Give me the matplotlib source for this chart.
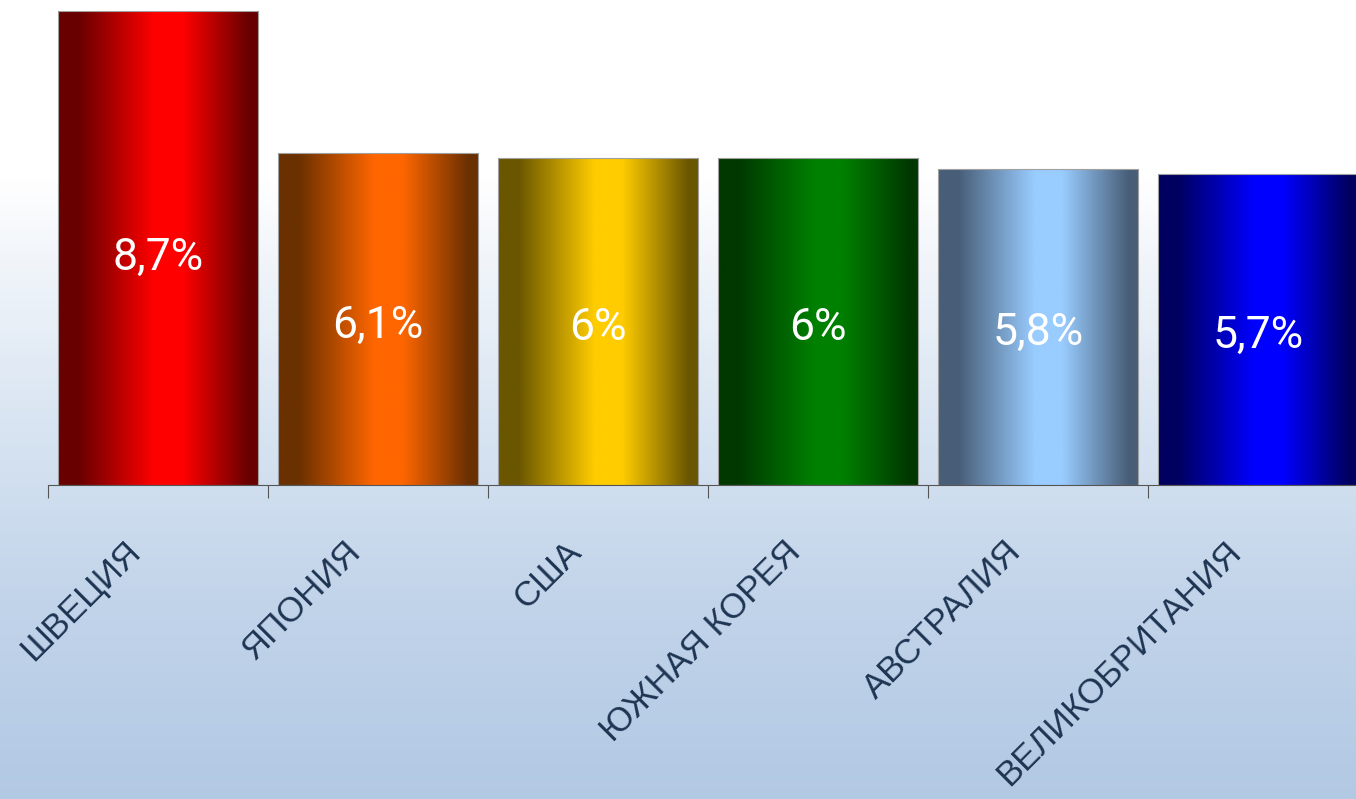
import matplotlib.pyplot as plt
import matplotlib.transforms as mtransforms
from matplotlib.colors import LinearSegmentedColormap
import numpy as np

countries = ['ШВЕЦИЯ', 'ЯПОНИЯ', 'США', 'ЮЖНАЯ КОРЕЯ', 'АВСТРАЛИЯ', 'ВЕЛИКОБРИТАНИЯ']
values = [8.7, 6.1, 6.0, 6.0, 5.8, 5.7]
value_labels = ['8,7%', '6,1%', '6%', '6%', '5,8%', '5,7%']
edge_colors = ['#680000', '#6a3000', '#6a5600', '#003800', '#485e78', '#000060']
mid_colors = ['#ff0000', '#ff6600', '#ffcc00', '#008000', '#99ccff', '#0000ff']

fig = plt.figure(figsize=(13.56, 7.99), dpi=100)

# background: white at top fading to pale blue at the bottom
bg = fig.add_axes([0, 0, 1, 1])
bg_cmap = LinearSegmentedColormap.from_list('bg', [
    (0.0, '#b2c9e4'), (0.25, '#c2d4ea'), (0.45, '#d6e3f1'),
    (0.65, '#eef3f9'), (0.78, '#ffffff'), (1.0, '#ffffff')])
bg.imshow(np.linspace(0, 1, 256).reshape(-1, 1), cmap=bg_cmap, aspect='auto',
          origin='lower', extent=[0, 1, 0, 1])
bg.set_axis_off()

ax = fig.add_axes([48 / 1356, 314 / 799, 1320 / 1356, 474 / 799])
ax.patch.set_alpha(0)
x = np.arange(len(values))
bars = ax.bar(x, values, width=0.91, color='none', edgecolor='#a0a0a0',
              linewidth=0.8, zorder=3)

ramp = np.linspace(0, 1, 256).reshape(1, -1)
for bar, c0, c1 in zip(bars, edge_colors, mid_colors):
    cmap = LinearSegmentedColormap.from_list(
        'bar', [(0, c0), (0.1, c0), (0.48, c1), (0.62, c1), (0.95, c0), (1, c0)])
    x0, w, h = bar.get_x(), bar.get_width(), bar.get_height()
    im = ax.imshow(ramp, cmap=cmap, aspect='auto', extent=[x0, x0 + w, 0, h],
                   zorder=2)
    im.set_clip_path(bar)

for xi, v, lab in zip(x, values, value_labels):
    ax.text(xi, v * 0.48, lab, ha='center', va='center', color='white',
            fontsize=32, family='Roboto', zorder=4)

ax.set_xlim(-0.5, 5.5)
ax.set_ylim(0, 8.7)
for s in ['top', 'right', 'left']:
    ax.spines[s].set_visible(False)
ax.spines['bottom'].set_color('#555555')
ax.set_yticks([])
ax.set_xticks(np.arange(-0.5, 5.5, 1))
ax.set_xticklabels([])
ax.tick_params(axis='x', length=9, color='#555555')

offset = mtransforms.ScaledTranslation(-0.34, -0.50, fig.dpi_scale_trans)
for xi, name in zip(x, countries):
    ax.text(xi, 0, name, transform=ax.get_xaxis_transform() + offset,
            rotation=45, rotation_mode='anchor', ha='right', va='top',
            fontsize=25, family='Liberation Sans', color='#1d3452')

fig.savefig('out.png', dpi=100)
